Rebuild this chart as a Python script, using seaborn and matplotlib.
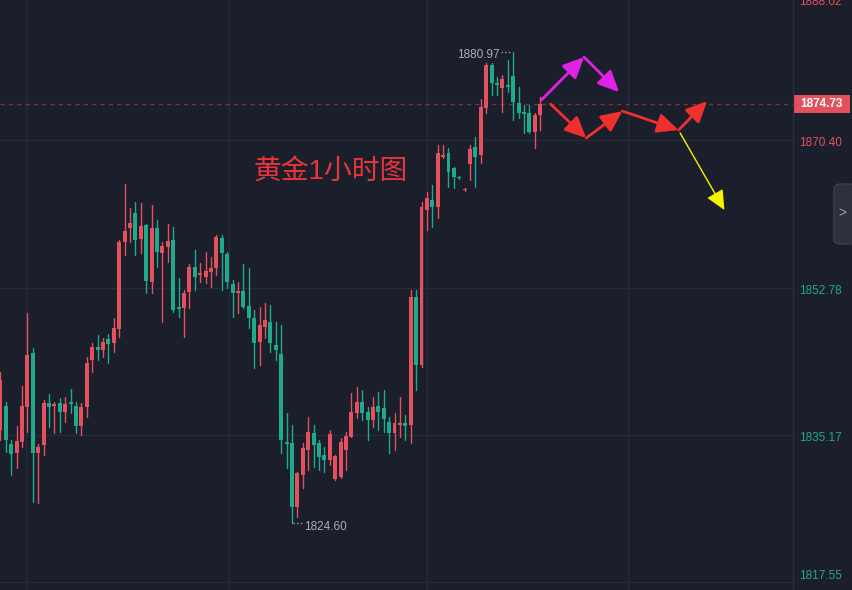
import numpy as np
import pandas as pd
import matplotlib
matplotlib.use("Agg")
import matplotlib.pyplot as plt
import matplotlib.transforms as mtransforms
from matplotlib.patches import Rectangle, FancyBboxPatch
import seaborn as sns

# 1h gold candles (red = up, green = down)
opens = [1835.75, 1838.62, 1834.08, 1833.01, 1834.32, 1838.50, 1844.95, 1833.01, 1833.96, 1838.98,
         1838.62, 1838.98, 1837.90, 1839.10, 1838.62, 1836.23, 1838.50, 1844.12, 1845.67, 1845.31,
         1846.62, 1846.14, 1847.82, 1858.21, 1859.89, 1861.68, 1858.57, 1860.25, 1853.44, 1859.89,
         1856.90, 1857.62, 1858.45, 1850.45, 1850.33, 1852.24, 1855.23, 1854.27, 1854.03, 1854.63,
         1855.11, 1858.69, 1856.78, 1853.20, 1852.12, 1852.36, 1850.57, 1849.13, 1846.26, 1848.06,
         1848.68, 1845.91, 1844.83, 1834.32, 1834.20, 1826.55, 1830.38, 1833.36, 1835.39, 1834.20,
         1832.77, 1832.17, 1829.90, 1830.14, 1833.36, 1834.92, 1837.78, 1839.10, 1837.90, 1836.95,
         1838.62, 1838.38, 1836.71, 1835.39, 1836.35, 1836.59, 1836.35, 1851.64, 1843.52, 1862.04,
         1863.23, 1862.39, 1868.37, 1868.85, 1867.06, 1865.98, 1864.43, 1867.53, 1869.56, 1868.61,
         1874.22, 1879.36, 1877.21, 1876.61, 1876.97, 1878.05, 1874.82, 1873.75, 1873.63, 1871.36,
         1873.39]
highs = [1842.68, 1839.10, 1834.56, 1836.23, 1841.01, 1849.73, 1845.55, 1834.08, 1839.34, 1840.06,
         1839.10, 1839.58, 1839.70, 1840.65, 1839.10, 1838.98, 1844.47, 1846.14, 1847.10, 1846.74,
         1847.22, 1849.13, 1858.45, 1865.14, 1862.28, 1862.99, 1862.87, 1860.37, 1862.63, 1860.84,
         1858.21, 1860.37, 1860.01, 1853.91, 1852.48, 1855.59, 1857.26, 1855.71, 1857.02, 1856.42,
         1859.05, 1859.05, 1857.02, 1853.67, 1853.44, 1855.59, 1855.11, 1850.09, 1850.45, 1850.93,
         1850.69, 1848.68, 1848.32, 1837.78, 1836.35, 1830.74, 1834.20, 1837.31, 1836.35, 1834.56,
         1833.72, 1835.75, 1832.77, 1834.80, 1835.51, 1840.18, 1840.89, 1840.53, 1838.50, 1839.70,
         1840.30, 1840.53, 1837.31, 1837.78, 1839.70, 1837.55, 1852.48, 1852.48, 1862.99, 1864.19,
         1865.02, 1869.80, 1869.80, 1869.44, 1867.18, 1866.10, 1864.67, 1869.80, 1870.76, 1875.30,
         1879.60, 1879.60, 1877.93, 1878.17, 1879.96, 1880.97, 1876.73, 1874.58, 1874.58, 1873.63,
         1875.54]
lows = [1834.56, 1833.13, 1830.38, 1831.21, 1833.72, 1835.51, 1827.15, 1827.03, 1832.77, 1836.11,
        1835.39, 1835.51, 1836.71, 1837.78, 1835.39, 1835.16, 1837.31, 1842.68, 1844.12, 1844.47,
        1843.76, 1845.07, 1846.86, 1856.66, 1858.21, 1856.66, 1856.90, 1852.12, 1852.12, 1855.23,
        1848.68, 1855.83, 1849.85, 1849.25, 1846.86, 1850.33, 1852.48, 1853.44, 1853.32, 1852.84,
        1854.27, 1852.48, 1852.72, 1849.25, 1849.73, 1850.33, 1847.96, 1843.16, 1843.52, 1846.74,
        1845.07, 1844.12, 1833.01, 1831.21, 1824.60, 1825.36, 1828.82, 1830.97, 1831.33, 1830.97,
        1830.74, 1831.57, 1829.78, 1830.02, 1830.97, 1834.92, 1837.19, 1836.95, 1834.56, 1836.11,
        1835.75, 1835.51, 1833.01, 1833.36, 1834.92, 1834.56, 1834.20, 1840.53, 1843.28, 1859.65,
        1860.01, 1861.08, 1868.25, 1864.79, 1864.67, 1865.74, 1864.31, 1865.62, 1864.79, 1867.65,
        1873.63, 1875.78, 1875.78, 1873.75, 1876.13, 1872.79, 1873.03, 1871.24, 1871.24, 1869.44,
        1871.60]
closes = [1841.73, 1834.56, 1832.89, 1834.44, 1838.62, 1844.71, 1833.01, 1833.72, 1838.98, 1838.50,
          1838.86, 1837.90, 1838.86, 1838.86, 1836.23, 1838.50, 1843.76, 1845.67, 1845.31, 1846.26,
          1846.02, 1847.96, 1858.21, 1859.53, 1860.48, 1858.45, 1860.13, 1853.56, 1859.89, 1857.02,
          1857.74, 1858.33, 1850.09, 1850.21, 1852.12, 1855.23, 1854.03, 1854.51, 1854.75, 1855.11,
          1858.81, 1856.90, 1853.44, 1852.12, 1852.36, 1850.45, 1849.13, 1846.14, 1848.32, 1848.92,
          1846.14, 1845.31, 1834.56, 1834.08, 1826.55, 1830.62, 1833.60, 1835.51, 1833.96, 1832.53,
          1832.17, 1835.27, 1832.65, 1834.32, 1835.04, 1837.90, 1839.10, 1837.78, 1836.95, 1838.50,
          1837.90, 1837.07, 1835.39, 1836.59, 1836.59, 1836.23, 1851.64, 1843.52, 1862.39, 1863.47,
          1862.39, 1868.85, 1868.61, 1866.58, 1865.98, 1865.86, 1864.55, 1869.33, 1868.37, 1874.34,
          1879.36, 1877.21, 1876.97, 1877.69, 1876.73, 1874.94, 1873.63, 1873.51, 1871.36, 1873.39,
          1874.73]

grid_prices = [1817.55, 1835.17, 1852.78, 1870.40]
grid_labels = ["1817.55", "1835.17", "1852.78", "1870.40"]
top_label = "1888.02"
last_price = 1874.73
high_idx, high_price = 95, 1880.97
low_idx, low_price = 54, 1824.60
vgrid_idx = [4.7, 42.3, 79.1, 116.2]
title_text = "黄金1小时图"

# forecast arrows (candle index, price)
magenta_path = [(100.2, 1875.18), (108.1, 1880.32), (114.6, 1876.13)]
red_path = [(101.9, 1874.70), (108.5, 1870.64), (115.2, 1873.86), (125.6, 1871.59), (130.9, 1875.06)]
yellow_path = [(125.9, 1871.24), (134.1, 1862.04)]

BG = "#1b1f2b"
UP = "#e2515d"
DOWN = "#20a98b"
GRID = "#262b38"

sns.set_theme(style="dark", rc={"axes.facecolor": BG, "figure.facecolor": BG,
                                "axes.edgecolor": BG, "axes.grid": False})
plt.rcParams["font.family"] = ["Liberation Sans", "Noto Sans CJK SC", "DejaVu Sans"]

df = pd.DataFrame({"open": opens, "high": highs, "low": lows, "close": closes})
df["idx"] = np.arange(len(df))
df["dir"] = np.where(df["close"] >= df["open"], "up", "down")

wicks = pd.DataFrame({
    "idx": np.repeat(df["idx"].values, 2),
    "price": np.column_stack([df["low"], df["high"]]).ravel(),
    "dir": np.repeat(df["dir"].values, 2),
})

fig = plt.figure(figsize=(8.53, 5.90), dpi=100)
ax = fig.add_axes([0, 0, 793 / 853, 1])

xmin, xmax = -0.06, 146.8
ymin, ymax = 1816.64, 1887.13
ax.set_xlim(xmin, xmax)
ax.set_ylim(ymin, ymax)
px_per_unit = 590 / (ymax - ymin)

# grid
for p in grid_prices:
    ax.axhline(p, color=GRID, lw=1, zorder=0)
for v in vgrid_idx:
    ax.axvline(v, color=GRID, lw=1, zorder=0)

# wicks
sns.lineplot(data=wicks, x="idx", y="price", units="idx", hue="dir",
             palette={"up": UP, "down": DOWN}, estimator=None, sort=False,
             legend=False, lw=1, ax=ax, zorder=2)

# bodies
body_bottom = df[["open", "close"]].min(axis=1)
body_h = (df["close"] - df["open"]).abs().clip(lower=0.15)
ax.bar(df["idx"], body_h, bottom=body_bottom, width=0.74,
       color=[UP if d == "up" else DOWN for d in df["dir"]], linewidth=0, zorder=3)

# last price dashed line
ax.axhline(last_price, color=UP, alpha=0.45, lw=1, ls=(0, (3, 3)), zorder=1)

# high / low markers
ax.plot([high_idx - 2.3, high_idx - 0.2], [high_price, high_price], ls=":", color="#9aa0ac", lw=1)
ax.text(high_idx - 2.6, high_price - 3 / px_per_unit, f"{high_price:.2f}", color="#a9aeb9",
        fontsize=8.5, ha="right", va="center")
ax.plot([low_idx + 0.2, low_idx + 2.1], [low_price, low_price], ls=":", color="#9aa0ac", lw=1)
ax.text(low_idx + 2.3, low_price - 4 / px_per_unit, f"{low_price:.2f}", color="#a9aeb9",
        fontsize=8.5, ha="left", va="center")

# title
ax.text(61.2, 1866.6, title_text, color="#e8353b", fontsize=20, ha="center", va="center")


def draw_path(path, color, lw, ms):
    for a, b in zip(path[:-1], path[1:]):
        ax.annotate("", xy=b, xytext=a,
                    arrowprops=dict(arrowstyle="-|>,head_length=0.75,head_width=0.35",
                                    color=color, lw=lw, mutation_scale=ms,
                                    shrinkA=0, shrinkB=0), zorder=5)


draw_path(magenta_path, "#e021e6", 2.0, 17)
draw_path(red_path, "#f0302e", 2.0, 17)
draw_path(yellow_path, "#f5f500", 1.0, 16)

ax.set_xlabel("")
ax.set_ylabel("")
ax.set_xticks([])
ax.set_yticks([])
for s in ax.spines.values():
    s.set_visible(False)

# right price scale
trans = mtransforms.blended_transform_factory(ax.transAxes, ax.transData)
for p, lab in zip(grid_prices, grid_labels):
    col = UP if p > last_price - 5 else DOWN
    shift = 3 if p > ymin + 8 / px_per_unit else -6
    ax.text(1 + 6 / 793, p - shift / px_per_unit, lab, transform=trans, color=col,
            fontsize=8.5, ha="left", va="center", clip_on=False)
ax.text(1 + 6 / 793, 1 - 2 / 590, top_label, transform=ax.transAxes, color=UP,
        fontsize=8.5, ha="left", va="center", clip_on=False)

box_h = 18 / px_per_unit
ax.add_patch(Rectangle((1.0, last_price - box_h / 2), 57 / 793, box_h, transform=trans,
                       facecolor=UP, edgecolor="none", clip_on=False, zorder=6))
ax.text(1 + 28.5 / 793, last_price, f"{last_price:.2f}", transform=trans, color="white",
        fontsize=8.5, fontweight="bold", ha="center", va="center", clip_on=False, zorder=7)

# separator of the price scale
fig.add_artist(plt.Line2D([793 / 853, 793 / 853], [0, 1], color="#2a2e3a", lw=1))

# collapse tab
fig.add_artist(FancyBboxPatch((834 / 853, (590 - 244) / 590), 22 / 853, 60 / 590,
                              boxstyle="round,pad=0,rounding_size=0.008",
                              facecolor="#2c313d", edgecolor="#3a3f4c", lw=1,
                              transform=fig.transFigure))
fig.text(842 / 853, (590 - 213) / 590, ">", color="#9aa0ac", fontsize=10,
         ha="center", va="center")

fig.savefig("out.png", dpi=100, facecolor=BG)
